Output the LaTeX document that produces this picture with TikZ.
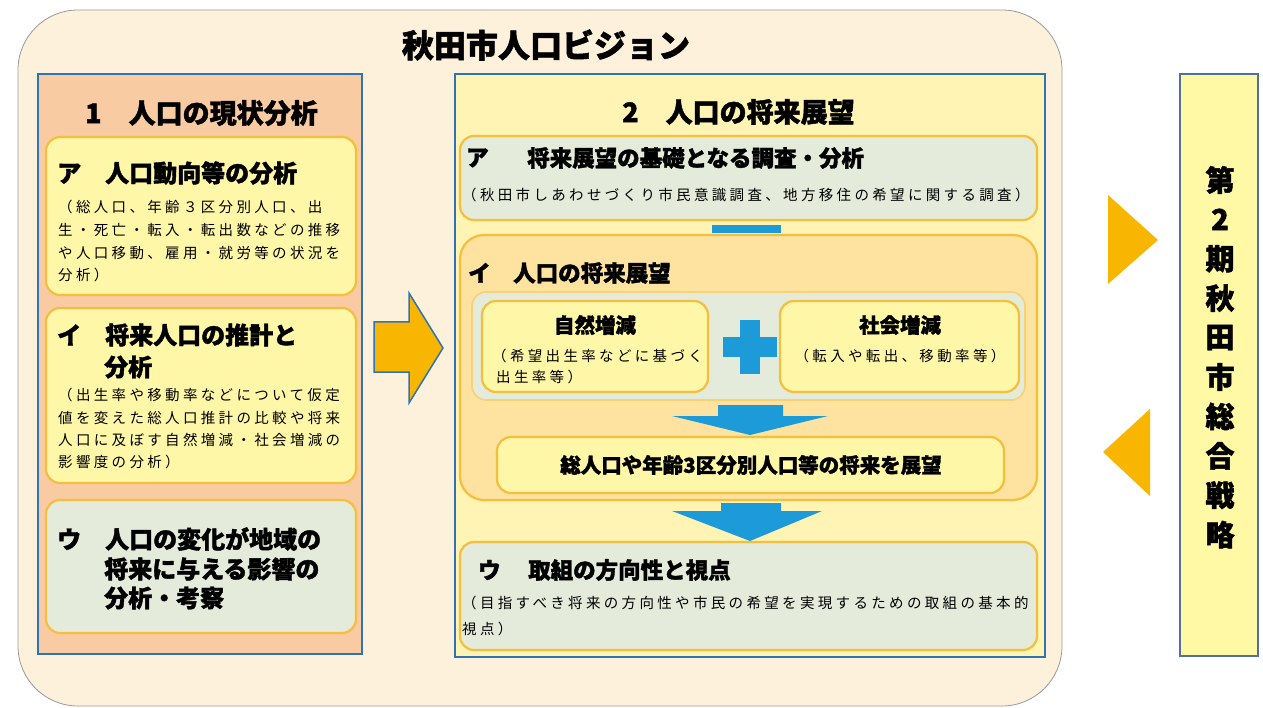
\documentclass[tikz,border=0pt]{standalone}
\usepackage{fontspec}
\setmainfont{Noto Sans CJK JP}[BoldFeatures={FakeBold=1.6}]
\newfontfamily\bodyf[LetterSpace=23]{Noto Sans CJK JP}
\definecolor{cream}{HTML}{FDF1DB}
\definecolor{outerline}{HTML}{9A9A9A}
\definecolor{salmon}{HTML}{F9CBA2}
\definecolor{panelblue}{HTML}{2F73B5}
\definecolor{lyellow}{HTML}{FFF7A8}
\definecolor{ygold}{HTML}{F5BE3C}
\definecolor{graygreen}{HTML}{E4EBDA}
\definecolor{midyellow}{HTML}{FFF4B4}
\definecolor{lorange}{HTML}{FDE2A0}
\definecolor{arrowblue}{HTML}{1C9BD8}
\definecolor{arroworange}{HTML}{F8B600}
\definecolor{rightbox}{HTML}{FFF8A4}
\definecolor{rightline}{HTML}{53709A}
\begin{document}
\begin{tikzpicture}[x=1pt,y=-1pt,
  frame/.style={anchor=north west, inner sep=0pt, outer sep=0pt},
  panel/.style={frame, draw=panelblue, line width=1.8pt},
  boxbase/.style={frame, rounded corners=14pt, line width=2.2pt, draw=ygold},
  ybox/.style={boxbase, fill=lyellow},
  gbox/.style={boxbase, fill=graygreen},
  obox/.style={boxbase, fill=lorange, rounded corners=24pt},
  big/.style={font=\bfseries\fontsize{32}{36}\selectfont, inner sep=0pt},
  sect/.style={font=\bfseries\fontsize{27}{30}\selectfont, anchor=west, inner sep=0pt},
  ttl/.style={font=\bfseries\fontsize{24}{28}\selectfont, anchor=west, inner sep=0pt},
  mttl/.style={font=\bfseries\fontsize{22.5}{27}\selectfont, anchor=west, inner sep=0pt},
  sttl/.style={font=\bfseries\fontsize{20.5}{24}\selectfont, inner sep=0pt},
  body/.style={font=\bodyf\fontsize{14.5}{17}\selectfont, anchor=west, inner sep=0pt},
  vch/.style={font=\bfseries\fontsize{29}{30}\selectfont, inner sep=0pt},
  bluearrow/.style={fill=arrowblue},
  orangetri/.style={fill=arroworange}
]
\useasboundingbox (0,0) rectangle (1263,708);
\fill[white] (0,0) rectangle (1263,708);
% outer
\draw[fill=cream, draw=outerline, line width=0.8pt, rounded corners=60pt] (18,10) rectangle (1062,706);
\node[big] (title) at (546,45) {秋田市人口ビジョン};

% left panel
\node[panel, fill=salmon, minimum width=324pt, minimum height=580pt] (lp) at (38,74) {};
\node[sect] (lpt) at (85,113) {1　人口の現状分析};
\node[ybox, minimum width=310pt, minimum height=158pt] (la) at (46,137) {};
\node[ttl] (lat) at (57,173) {ア　人口動向等の分析};
\node[body] (lab1) at (58,207) {（総人口、年齢３区分別人口、出};
\node[body] (lab2) at (58,230) {生・死亡・転入・転出数などの推移};
\node[body] (lab3) at (58,253) {や人口移動、雇用・就労等の状況を};
\node[body] (lab4) at (58,275) {分析）};
\node[ybox, minimum width=310pt, minimum height=175pt] (li) at (46,308) {};
\node[ttl] (lit1) at (57,335) {イ　将来人口の推計と};
\node[ttl] (lit2) at (104,367) {分析};
\node[body] (lib1) at (58,395) {（出生率や移動率などについて仮定};
\node[body] (lib2) at (58,418) {値を変えた総人口推計の比較や将来};
\node[body] (lib3) at (58,440) {人口に及ぼす自然増減・社会増減の};
\node[body] (lib4) at (58,462) {影響度の分析）};
\node[gbox, minimum width=310pt, minimum height=133pt] (lu) at (46,500) {};
\node[ttl] (lut1) at (57,539) {ウ　人口の変化が地域の};
\node[ttl] (lut2) at (104,569) {将来に与える影響の};
\node[ttl] (lut3) at (104,598) {分析・考察};

% orange block arrow
\draw[fill=arroworange, draw=panelblue, line width=1.5pt, line join=miter]
  (374,322) -- (409,322) -- (409,293) -- (443,348) -- (409,403) -- (409,372) -- (374,372) -- cycle;

% middle panel
\node[panel, fill=midyellow, minimum width=590pt, minimum height=583pt] (mp) at (455,74) {};
\node[sect] (mpt) at (622,112) {2　人口の将来展望};
\node[gbox, minimum width=577pt, minimum height=84pt] (ma) at (460,136) {};
\node[mttl] (mat1) at (466,158) {ア};
\node[mttl] (mat2) at (527,158) {将来展望の基礎となる調査・分析};
\node[body] (mab) at (462,195) {（秋田市しあわせづくり市民意識調査、地方移住の希望に関する調査）};
\fill[arrowblue] (712,225) rectangle (781,233);
\node[obox, minimum width=577pt, minimum height=265pt] (mi) at (460,235) {};
\node[mttl] (mit) at (468,273) {イ　人口の将来展望};
\node[boxbase, fill=graygreen, draw=ygold!70, line width=1.6pt, minimum width=553pt, minimum height=108pt] (mg) at (472,292) {};
\node[ybox, minimum width=226pt, minimum height=91pt] (s1) at (482,301) {};
\node[sttl] (s1t) at (595,325) {自然増減};
\node[body] (s1b1) at (492,356) {（希望出生率などに基づく};
\node[body] (s1b2) at (496,377) {出生率等）};
\node[ybox, minimum width=239pt, minimum height=91pt] (s2) at (780,301) {};
\node[sttl] (s2t) at (900,325) {社会増減};
\node[body, anchor=center] (s2b) at (900,356) {（転入や転出、移動率等）};
% plus
\fill[arrowblue] (740,320) rectangle (760,374);
\fill[arrowblue] (723,337) rectangle (777,357);
% arrow 1
\fill[bluearrow] (718,405) -- (783,405) -- (783,416) -- (828,416) -- (750,435) -- (672,416) -- (718,416) -- cycle;
\node[ybox, minimum width=507pt, minimum height=56pt] (mt) at (497,437) {};
\node[sttl] (mtt) at (751,465) {総人口や年齢3区分別人口等の将来を展望};
\node[gbox, minimum width=577pt, minimum height=108pt] (mu) at (460,542) {};
% arrow 2
\fill[bluearrow] (721,503) -- (781,503) -- (781,511) -- (822,511) -- (750,541) -- (672,511) -- (721,511) -- cycle;
\node[mttl] (mut1) at (478,570) {ウ};
\node[mttl] (mut2) at (528,570) {取組の方向性と視点};
\node[body] (mub1) at (462,603) {（目指すべき将来の方向性や市民の希望を実現するための取組の基本的};
\node[body] (mub2) at (462,629) {視点）};

% triangles
\fill[orangetri] (1108,195) -- (1158,240) -- (1108,284) -- cycle;
\fill[orangetri] (1150,409) -- (1103,452) -- (1150,496) -- cycle;

% right box
\node[frame, fill=rightbox, draw=rightline, line width=1.4pt, minimum width=78pt, minimum height=582pt] (rb) at (1180,74) {};
\foreach \c [count=\i from 0] in {第,2,期,秋,田,市,総,合,戦,略}
  \node[vch] (v\i) at (1220,{180+39.4*\i}) {\c};
\end{tikzpicture}
\end{document}
